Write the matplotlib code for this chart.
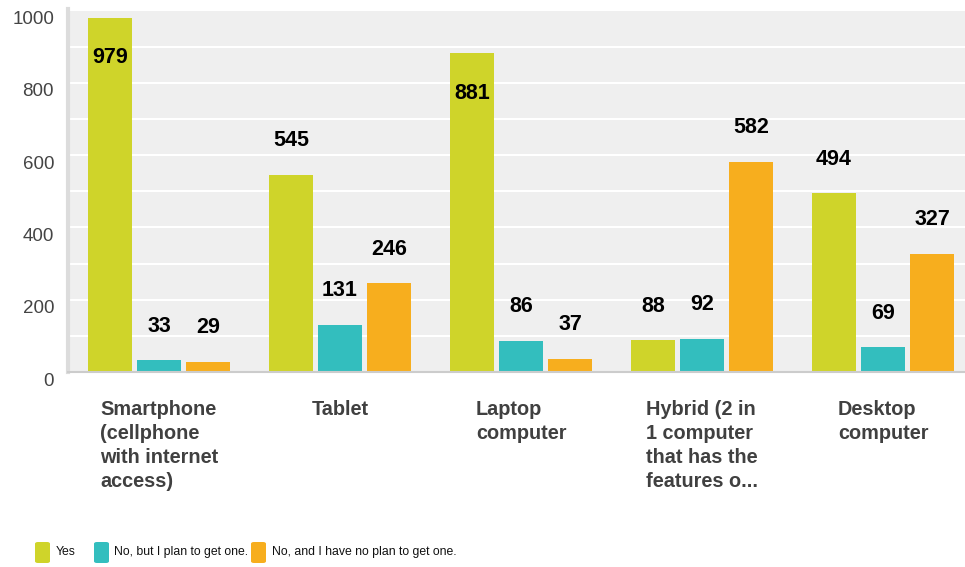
import numpy as np
import matplotlib
matplotlib.use('Agg')
import matplotlib.pyplot as plt
import matplotlib.transforms as mtransforms
from matplotlib.patches import FancyBboxPatch

categories = ['Smartphone\n(cellphone\nwith internet\naccess)', 'Tablet', 'Laptop\ncomputer',
              'Hybrid (2 in\n1 computer\nthat has the\nfeatures o...', 'Desktop\ncomputer']
series_names = ['Yes', 'No, but I plan to get one.', 'No, and I have no plan to get one.']
yes = [979, 545, 881, 88, 494]
plan = [33, 131, 86, 92, 69]
no_plan = [29, 246, 37, 582, 327]
colors = ['#cfd42a', '#33bebe', '#f7ae1e']

plt.rcParams['font.family'] = ['Liberation Sans', 'DejaVu Sans']

fig = plt.figure(figsize=(9.65, 5.67), dpi=100)
ax = fig.add_axes([68/965, 195/567, 897/965, 363/567])
ax.set_facecolor('#efefef')

x = np.arange(len(categories))
width = 0.243
offsets = [-0.271, 0, 0.271]
for vals, off, c in zip([yes, plan, no_plan], offsets, colors):
  bars = ax.bar(x + off, vals, width, color=c, zorder=3)
  for b, v in zip(bars, vals):
    # tall bars get their label inside, the rest above
    dy = -28.5 if v > 800 else 24.5
    ax.annotate(str(v), (b.get_x() + b.get_width()/2, v), xytext=(0, dy),
                textcoords='offset points', ha='center', va='center',
                fontsize=15.5, fontweight='bold', color='black', zorder=4)

ax.set_xlim(-0.503, 4.453)
ax.set_ylim(0, 1004)
ax.set_yticks(np.arange(0, 1001, 200))
ax.set_yticks(np.arange(100, 1000, 200), minor=True)
ax.grid(axis='y', which='both', color='white', linewidth=1.5, zorder=1)
ax.tick_params(axis='y', which='both', length=0, pad=10, labelsize=13.5, labelcolor='#444444')
ax.tick_params(axis='x', length=0, pad=20)
ax.set_xticks(x)
ax.set_xticklabels(categories, fontsize=14.3, fontweight='bold', color='#404040', linespacing=1.33)
for t in ax.get_xticklabels():
  t.set_multialignment('left')
  t.set_verticalalignment('top')
shift = mtransforms.ScaledTranslation(0, -0.07, fig.dpi_scale_trans)
for t in ax.get_yticklabels():
  t.set_transform(t.get_transform() + shift)

for s in ['top', 'right']:
  ax.spines[s].set_visible(False)
ax.spines['left'].set_color('#dcdcdc')
ax.spines['left'].set_linewidth(3)
ax.spines['bottom'].set_color('#cccccc')
ax.spines['bottom'].set_linewidth(1.5)
ax.spines['left'].set_zorder(5)
ax.spines['bottom'].set_zorder(5)

# legend drawn by hand at the bottom
W, H = 965.0, 567.0
box_x = [35, 94, 251]
text_x = [56, 114, 272]
for name, c, bx, tx in zip(series_names, colors, box_x, text_x):
  fig.add_artist(FancyBboxPatch((bx/W, (567-563)/H), 15/W, 21/H,
                                boxstyle='round,pad=0,rounding_size=0.003',
                                transform=fig.transFigure, facecolor=c, edgecolor='none'))
  fig.text(tx/W, (567-552)/H, name, ha='left', va='center', fontsize=8.8,
           color='#111111')

fig.savefig('out.png', dpi=100)
